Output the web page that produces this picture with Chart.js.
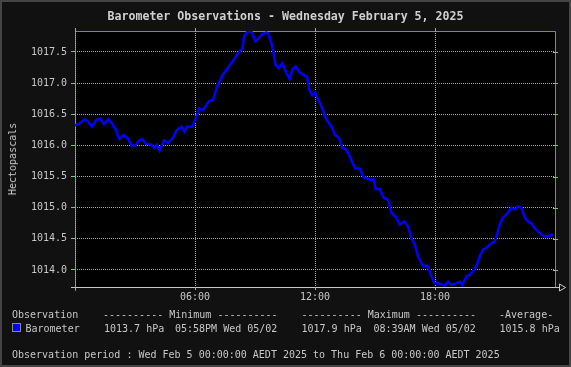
<!DOCTYPE html>
<html><head><meta charset="utf-8">
<script src="https://cdn.jsdelivr.net/npm/chart.js@4.4.1/dist/chart.umd.min.js"></script>
<style>
html,body{margin:0;padding:0;background:#111;}
#wrap{position:relative;width:571px;height:367px;background:#111;overflow:hidden;font-family:'DejaVu Sans Mono',monospace;color:#c8c8c8;}
#c{position:absolute;left:0;top:0;}
.t{position:absolute;font-size:10px;line-height:12px;white-space:pre;}
#title{position:absolute;left:0;width:571px;top:8.5px;text-align:center;font-size:11.6px;font-weight:bold;line-height:14px;color:#d0d0d0;white-space:pre;}
#ylab{position:absolute;left:12.5px;top:159px;transform:translate(-50%,-50%) rotate(-90deg);font-size:10px;line-height:12px;white-space:pre;}
#frame{position:absolute;left:0;top:0;width:571px;height:367px;box-sizing:border-box;border:2px solid #454545;pointer-events:none;}
.sw{position:absolute;left:12px;top:323px;width:7px;height:7px;background:#0000ff;border:1px solid #8a8a8a;}
</style></head>
<body>
<div id="wrap">
<canvas id="c" width="571" height="367"></canvas>
<div id="title">Barometer Observations - Wednesday February 5, 2025</div>
<div id="ylab">Hectopascals</div>
<div class="t" style="left:12px;top:308.5px">Observation</div>
<div class="t" style="left:103px;top:308.5px">---------- Minimum ----------</div>
<div class="t" style="left:301.5px;top:308.5px">---------- Maximum ----------</div>
<div class="t" style="left:499px;top:308.5px">-Average-</div>
<div class="sw"></div>
<div class="t" style="left:25.5px;top:322.5px">Barometer</div>
<div class="t" style="left:104px;top:322.5px">1013.7 hPa</div>
<div class="t" style="left:175px;top:322.5px">05:58PM Wed 05/02</div>
<div class="t" style="left:301.5px;top:322.5px">1017.9 hPa</div>
<div class="t" style="left:373.5px;top:322.5px">08:39AM Wed 05/02</div>
<div class="t" style="left:499.5px;top:322.5px">1015.8 hPa</div>
<div class="t" style="left:12px;top:349px">Observation period : Wed Feb 5 00:00:00 AEDT 2025 to Thu Feb 6 00:00:00 AEDT 2025</div>
<div id="frame"></div>
</div>
<script>
// ---- data ----
const hours = [0,0.25,0.49,0.65,0.85,1.07,1.27,1.45,1.67,1.87,2.03,2.15,2.23,2.43,2.65,2.82,3.03,3.2,3.37,3.53,3.82,3.98,4.1,4.23,4.45,4.65,4.9,5.07,5.32,5.48,5.6,5.87,6.03,6.2,6.4,6.7,6.9,7.15,7.4,7.7,7.95,8.15,8.37,8.45,8.62,8.82,9.02,9.18,9.37,9.57,9.68,9.82,9.93,10.02,10.18,10.37,10.57,10.73,10.87,11.03,11.23,11.4,11.6,11.73,11.87,12.0,12.15,12.4,12.57,12.82,12.99,13.2,13.37,13.57,13.77,13.99,14.24,14.44,14.74,14.94,15.03,15.23,15.43,15.65,15.82,16.07,16.23,16.48,16.65,16.82,16.99,17.15,17.4,17.62,17.82,17.99,18.23,18.48,18.65,18.82,19.07,19.24,19.37,19.57,19.74,19.9,20.07,20.24,20.4,20.57,20.74,20.99,21.1,21.24,21.4,21.65,21.82,21.99,22.15,22.32,22.49,22.65,22.82,22.99,23.15,23.32,23.49,23.74,23.9];
const pressure = [1016.32,1016.36,1016.42,1016.38,1016.30,1016.41,1016.43,1016.34,1016.42,1016.34,1016.26,1016.15,1016.10,1016.17,1016.11,1016.00,1016.00,1016.08,1016.10,1016.03,1016.01,1015.96,1016.01,1015.92,1016.08,1016.04,1016.12,1016.24,1016.30,1016.22,1016.30,1016.30,1016.42,1016.59,1016.57,1016.71,1016.73,1016.98,1017.14,1017.27,1017.38,1017.48,1017.55,1017.75,1017.83,1017.83,1017.67,1017.72,1017.79,1017.81,1017.79,1017.64,1017.48,1017.30,1017.24,1017.32,1017.16,1017.07,1017.22,1017.27,1017.17,1017.14,1017.10,1016.88,1016.81,1016.85,1016.74,1016.57,1016.41,1016.31,1016.17,1016.12,1015.96,1015.93,1015.80,1015.64,1015.62,1015.49,1015.45,1015.45,1015.30,1015.30,1015.16,1015.13,1014.92,1014.84,1014.73,1014.78,1014.70,1014.51,1014.41,1014.22,1014.06,1014.07,1013.90,1013.79,1013.78,1013.75,1013.81,1013.76,1013.79,1013.81,1013.76,1013.90,1013.92,1013.98,1014.06,1014.22,1014.33,1014.35,1014.41,1014.46,1014.57,1014.73,1014.84,1014.92,1015.00,1014.97,1015.02,1015.00,1014.84,1014.78,1014.75,1014.67,1014.62,1014.57,1014.54,1014.55,1014.57];
const xTickValues = [0, 6, 12, 18];
const xTickLabels = ['', '06:00', '12:00', '18:00'];
const yTickValues = [1014.0, 1014.5, 1015.0, 1015.5, 1016.0, 1016.5, 1017.0, 1017.5];
const yRange = [1013.727, 1017.837];
const xRange = [0, 24];

const GRID = '#78c878', OLIVE = '#8c8c3c', AXIS = '#c8c8c8', TXT = '#c8c8c8';
const FONT = {family: "'DejaVu Sans Mono', monospace", size: 10};

const extras = {
  id: 'extras',
  beforeDraw(chart) {
    const {ctx, chartArea: a} = chart;
    ctx.save();
    ctx.fillStyle = '#000';
    ctx.fillRect(a.left, a.top, a.right - a.left, a.bottom - a.top);
    ctx.strokeStyle = OLIVE; ctx.lineWidth = 1;
    ctx.beginPath();
    ctx.moveTo(a.left + 0.5, a.bottom + 4);
    ctx.lineTo(a.left + 0.5, a.top + 0.5);
    ctx.lineTo(a.right + 0.5, a.top + 0.5);
    ctx.lineTo(a.right + 0.5, a.bottom);
    ctx.stroke();
    ctx.restore();
  },
  beforeDatasetsDraw(chart) {
    const {ctx, chartArea: a, scales: {x, y}} = chart;
    ctx.save();
    ctx.lineWidth = 1;
    ctx.strokeStyle = GRID;
    ctx.beginPath();
    yTickValues.forEach(v => {
      const py = Math.round(y.getPixelForValue(v)) + 0.5;
      ctx.moveTo(a.right - 2, py); ctx.lineTo(a.right + 3, py);
    });
    xTickValues.forEach(v => {
      const px = Math.round(x.getPixelForValue(v)) + 0.5;
      ctx.moveTo(px, a.top - 3); ctx.lineTo(px, a.top);
    });
    ctx.stroke();
    ctx.strokeStyle = AXIS;
    ctx.beginPath();
    const by = Math.round(a.bottom) + 0.5;
    ctx.moveTo(a.left - 4, by); ctx.lineTo(a.right + 4, by);
    ctx.stroke();
    ctx.beginPath();
    ctx.moveTo(a.right + 4.5, by - 3.5);
    ctx.lineTo(a.right + 10.5, by);
    ctx.lineTo(a.right + 4.5, by + 3.5);
    ctx.closePath();
    ctx.stroke();
    ctx.restore();
  }
};

new Chart(document.getElementById('c'), {
  type: 'line',
  data: {
    datasets: [{
      label: 'Barometer',
      data: hours.map((h, i) => ({x: h, y: pressure[i]})),
      borderColor: '#0000ff',
      borderWidth: 2.5,
      pointRadius: 0,
      tension: 0,
      fill: false
    }]
  },
  options: {
    responsive: false,
    animation: false,
    devicePixelRatio: 1,
    layout: {padding: {top: 31, right: 16, left: 0, bottom: 0}},
    plugins: {legend: {display: false}, title: {display: false}, tooltip: {enabled: false}},
    scales: {
      x: {
        type: 'linear', min: xRange[0], max: xRange[1],
        afterFit(s) { s.height = 80; },
        afterBuildTicks(s) { s.ticks = xTickValues.map(v => ({value: v})); },
        ticks: {
          autoSkip: false, maxRotation: 0, color: TXT, font: FONT, padding: 1,
          callback: (v, i) => xTickLabels[i]
        },
        grid: {color: GRID, tickColor: GRID, tickLength: 3, lineWidth: 1, tickBorderDash: []},
        border: {display: false, dash: [1, 1]}
      },
      y: {
        type: 'linear', min: yRange[0], max: yRange[1],
        afterFit(s) { s.width = 75; },
        afterBuildTicks(s) { s.ticks = yTickValues.map(v => ({value: v})); },
        ticks: {color: TXT, font: FONT, padding: 4, callback: v => Number(v).toFixed(1)},
        grid: {color: GRID, tickColor: GRID, tickLength: 4, lineWidth: 1, tickBorderDash: []},
        border: {display: false, dash: [1, 1]}
      }
    }
  },
  plugins: [extras]
});
</script>
</body></html>
